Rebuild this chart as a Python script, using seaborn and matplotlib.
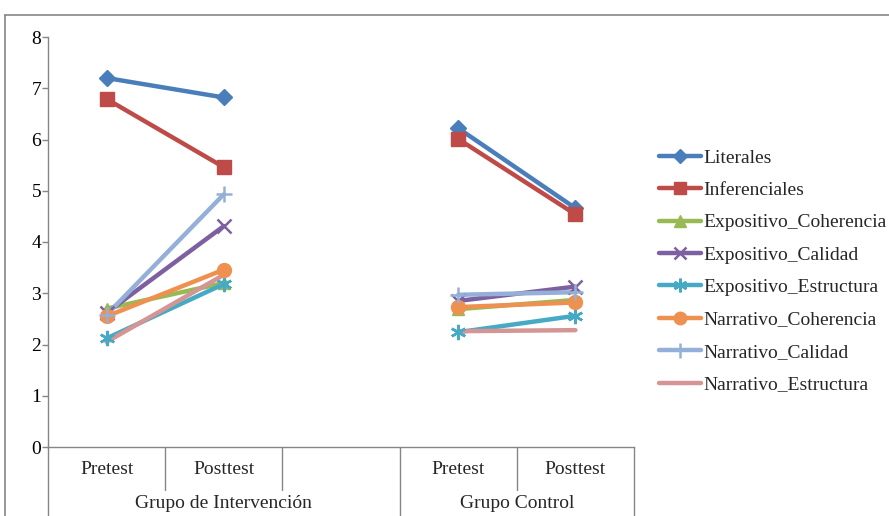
import numpy as np
import pandas as pd
import matplotlib
matplotlib.use("Agg")
import matplotlib.pyplot as plt
from matplotlib.lines import Line2D
import matplotlib.transforms as mtrans
import seaborn as sns

# ---- data ----
categories = ["Pretest", "Posttest", "", "Pretest", "Posttest"]
groups = ["Grupo de Intervención", "Grupo Control"]
series = ["Literales", "Inferenciales", "Expositivo_Coherencia", "Expositivo_Calidad",
          "Expositivo_Estructura", "Narrativo_Coherencia", "Narrativo_Calidad",
          "Narrativo_Estructura"]
# values per series: [Interv Pre, Interv Post, Control Pre, Control Post]
literales = [7.20, 6.82, 6.22, 4.66]
inferenciales = [6.79, 5.46, 6.01, 4.54]
expositivo_coherencia = [2.70, 3.20, 2.69, 2.87]
expositivo_calidad = [2.62, 4.31, 2.85, 3.13]
expositivo_estructura = [2.12, 3.18, 2.24, 2.56]
narrativo_coherencia = [2.55, 3.46, 2.73, 2.82]
narrativo_calidad = [2.58, 4.93, 2.97, 3.02]
narrativo_estructura = [2.05, 3.36, 2.26, 2.28]
y_ticks = [0, 1, 2, 3, 4, 5, 6, 7, 8]

values = [literales, inferenciales, expositivo_coherencia, expositivo_calidad,
          expositivo_estructura, narrativo_coherencia, narrativo_calidad,
          narrativo_estructura]
colors = ["#4A7EBB", "#BE4B48", "#98B954", "#7D60A0", "#46AAC5", "#EE9150",
          "#95B0D8", "#D59594"]
markers = ["D", "s", "^", "x", (6, 2, 0), "o", "+", ""]
msizes = [8, 10, 9, 10, 11, 10, 12, 0]

# positions of the four measured points on the 5-slot category axis
point_pos = [0, 1, 3, 4]
point_group = [0, 0, 1, 1]

rows = []
for s, vals in zip(series, values):
    for p, g, v in zip(point_pos, point_group, vals):
        rows.append({"serie": s, "pos": p, "grupo": groups[g], "valor": v})
df = pd.DataFrame(rows)

sns.set_theme(style="white")
plt.rcParams["font.family"] = ["Liberation Serif", "DejaVu Serif"]
FS = 14

fig = plt.figure(figsize=(8.89, 5.16), dpi=100)
W, H = 889, 516
ax = fig.add_axes([48 / W, 1 - 447 / H, (634 - 48) / W, (447 - 37) / H])

palette = dict(zip(series, colors))
for g in groups:
    sub = df[df["grupo"] == g]
    sns.lineplot(data=sub, x="pos", y="valor", hue="serie", hue_order=series,
                 palette=palette, legend=False, ax=ax, linewidth=3.2,
                 estimator=None, sort=False)

# markers drawn on top of each line
for s, c, m, ms in zip(series, colors, markers, msizes):
    if m == "":
        continue
    sub = df[df["serie"] == s]
    mew = 1.8 if m in ("x", "+", (6, 2, 0)) else 1.0
    ax.plot(sub["pos"], sub["valor"], linestyle="none", marker=m, markersize=ms,
            color=c, markeredgecolor=c, markeredgewidth=mew, zorder=5)

ax.set_xlim(-0.5, 4.5)
ax.set_ylim(0, 8)
ax.set_yticks(y_ticks)
ax.set_yticklabels([str(t) for t in y_ticks], fontsize=FS)
ax.set_xticks([])
ax.set_xlabel("")
ax.set_ylabel("")
for sp in ["top", "right"]:
    ax.spines[sp].set_visible(False)
for sp in ["left", "bottom"]:
    ax.spines[sp].set_color("#868686")
    ax.spines[sp].set_linewidth(1.0)
ax.tick_params(axis="y", direction="out", length=4, width=1, color="#868686",
               left=True, pad=1, labelcolor="black")

# category labels and dividers
trans = mtrans.blended_transform_factory(ax.transData, ax.transAxes)
px = 1.0 / (447 - 37)
for i, lab in enumerate(categories):
    if lab:
        ax.text(i, -23 * px, lab, transform=trans, ha="center", va="center",
                fontsize=FS)
long_div = [-0.5, 2.5, 4.5]
short_div = [0.5, 1.5, 3.5]
for xd in long_div:
    ax.plot([xd, xd], [0, -(516 - 447) * px], transform=trans, color="#868686",
            lw=1.0, clip_on=False)
for xd in short_div:
    ax.plot([xd, xd], [0, -43 * px], transform=trans, color="#868686",
            lw=1.0, clip_on=False)
group_centers = [1.0, 3.5]
for gc, g in zip(group_centers, groups):
    ax.text(gc, -57 * px, g, transform=trans, ha="center", va="center",
            fontsize=FS)

# legend
handles = []
for s, c, m, ms in zip(series, colors, markers, msizes):
    mew = 1.8 if m in ("x", "+", (6, 2, 0)) else 1.0
    handles.append(Line2D([0], [0], color=c, lw=3.2, marker=(m if m else None),
                          markersize=ms * 0.9, markeredgecolor=c,
                          markeredgewidth=mew))
leg = fig.legend(handles, series, loc="upper left",
                 bbox_to_anchor=(659 / W, 1 - 149 / H), frameon=False,
                 fontsize=FS, handlelength=2.15, handletextpad=0.12,
                 labelspacing=0.76, borderaxespad=0, borderpad=0)

# outer chart-area border (top and left visible)
fig.add_artist(Line2D([5 / W, 1], [1 - 15 / H, 1 - 15 / H], color="#868686", lw=1.2))
fig.add_artist(Line2D([5 / W, 5 / W], [0, 1 - 15 / H], color="#868686", lw=1.2))

fig.savefig("out.png", dpi=100)
